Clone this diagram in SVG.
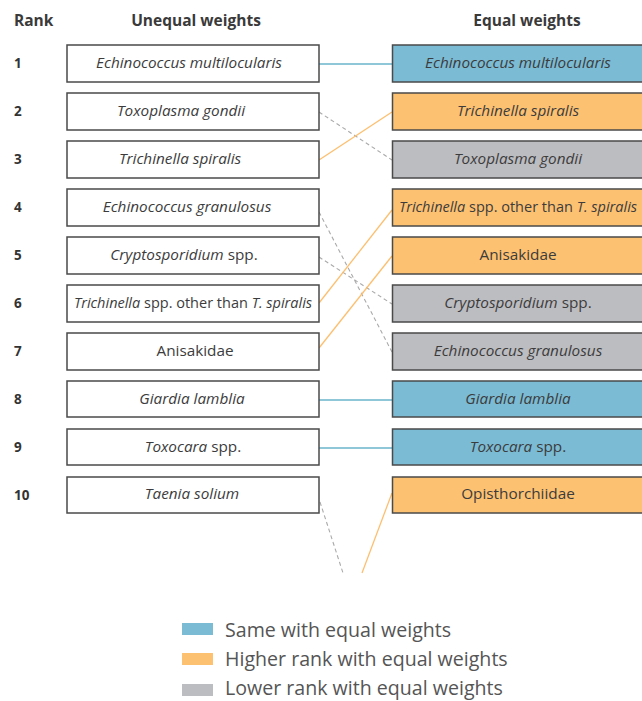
<svg xmlns="http://www.w3.org/2000/svg" width="642" height="701" viewBox="0 0 642 701">
<style>
text{font-family:"Open Sans","Noto Sans","Liberation Sans",sans-serif;fill:#3c3c3c}
.hd{font-size:15.5px;font-weight:bold;fill:#3a3a3a}
.rk{font-size:13.5px;font-weight:bold;fill:#333}
.lb{font-size:15.3px;text-anchor:middle}
.sm{font-size:14.5px}
.i{font-style:italic}
.bx{stroke:#4a4a4a;stroke-width:1.5}
.w{fill:#fff}
.b{fill:#7bbbd4}
.o{fill:#fdc172}
.g{fill:#bcbdc1}
.cs{stroke:#6ab4cc;stroke-width:1.6;fill:none}
.ch{stroke:#fdbf6f;stroke-width:1.3;fill:none}
.cl{stroke:#aaaaaa;stroke-width:1.1;stroke-dasharray:4 3;fill:none}
.lg{font-size:19.6px;fill:#555}
</style>
<g id="headers">
<text class="hd" x="14" y="26">Rank</text>
<text class="hd" x="196" y="26" text-anchor="middle">Unequal weights</text>
<text class="hd" x="527" y="26" text-anchor="middle">Equal weights</text>
</g>
<g id="ranks">
<text class="rk" x="14" y="68">1</text>
<text class="rk" x="14" y="116">2</text>
<text class="rk" x="14" y="164">3</text>
<text class="rk" x="14" y="212">4</text>
<text class="rk" x="14" y="260">5</text>
<text class="rk" x="14" y="308">6</text>
<text class="rk" x="14" y="356">7</text>
<text class="rk" x="14" y="404">8</text>
<text class="rk" x="14" y="452">9</text>
<text class="rk" x="14" y="500">10</text>
</g>
<g id="connectors">
<line class="cs" x1="319" y1="64" x2="392" y2="64"/>
<line class="cs" x1="319" y1="400" x2="392" y2="400"/>
<line class="cs" x1="319" y1="448" x2="392" y2="448"/>
<line class="cl" x1="319" y1="112" x2="392" y2="160"/>
<line class="ch" x1="319" y1="160" x2="392" y2="112"/>
<line class="cl" x1="319" y1="212" x2="392" y2="352"/>
<line class="cl" x1="319" y1="257" x2="392" y2="304"/>
<line class="ch" x1="319" y1="303" x2="392" y2="210"/>
<line class="ch" x1="319" y1="348" x2="392" y2="256"/>
<line class="cl" x1="320" y1="502" x2="343" y2="573"/>
<line class="ch" x1="362" y1="573" x2="392" y2="493"/>
</g>
<g id="left-1"><rect class="bx w" x="67" y="45" width="252" height="37"/><text class="lb i" x="189" y="68">Echinococcus multilocularis</text></g>
<g id="left-2"><rect class="bx w" x="67" y="93" width="252" height="37"/><text class="lb i" x="181" y="116">Toxoplasma gondii</text></g>
<g id="left-3"><rect class="bx w" x="67" y="141" width="252" height="37"/><text class="lb i" x="180" y="164">Trichinella spiralis</text></g>
<g id="left-4"><rect class="bx w" x="67" y="189" width="252" height="37"/><text class="lb i" x="187" y="212">Echinococcus granulosus</text></g>
<g id="left-5"><rect class="bx w" x="67" y="237" width="252" height="37"/><text class="lb" x="184" y="260"><tspan class="i">Cryptosporidium</tspan> spp.</text></g>
<g id="left-6"><rect class="bx w" x="67" y="285" width="252" height="37"/><text class="lb sm" x="193" y="308"><tspan class="i">Trichinella</tspan> spp. other than <tspan class="i">T. spiralis</tspan></text></g>
<g id="left-7"><rect class="bx w" x="67" y="333" width="252" height="37"/><text class="lb" x="195" y="356">Anisakidae</text></g>
<g id="left-8"><rect class="bx w" x="67" y="381" width="252" height="36"/><text class="lb i" x="192" y="404">Giardia lamblia</text></g>
<g id="left-9"><rect class="bx w" x="67" y="429" width="252" height="36"/><text class="lb" x="193" y="452"><tspan class="i">Toxocara</tspan> spp.</text></g>
<g id="left-10"><rect class="bx w" x="67" y="477" width="252" height="36"/><text class="lb i" x="192" y="499">Taenia solium</text></g>
<g id="right-1"><rect class="bx b" x="392.5" y="45" width="252" height="37"/><text class="lb i" x="518" y="68">Echinococcus multilocularis</text></g>
<g id="right-2"><rect class="bx o" x="392.5" y="93" width="252" height="37"/><text class="lb i" x="518" y="116">Trichinella spiralis</text></g>
<g id="right-3"><rect class="bx g" x="392.5" y="141" width="252" height="37"/><text class="lb i" x="518" y="164">Toxoplasma gondii</text></g>
<g id="right-4"><rect class="bx o" x="392.5" y="189" width="252" height="37"/><text class="lb sm" x="518" y="212"><tspan class="i">Trichinella</tspan> spp. other than <tspan class="i">T. spiralis</tspan></text></g>
<g id="right-5"><rect class="bx o" x="392.5" y="237" width="252" height="37"/><text class="lb" x="518" y="260">Anisakidae</text></g>
<g id="right-6"><rect class="bx g" x="392.5" y="285" width="252" height="37"/><text class="lb" x="518" y="308"><tspan class="i">Cryptosporidium</tspan> spp.</text></g>
<g id="right-7"><rect class="bx g" x="392.5" y="333" width="252" height="37"/><text class="lb i" x="518" y="356">Echinococcus granulosus</text></g>
<g id="right-8"><rect class="bx b" x="392.5" y="381" width="252" height="36"/><text class="lb i" x="518" y="404">Giardia lamblia</text></g>
<g id="right-9"><rect class="bx b" x="392.5" y="429" width="252" height="36"/><text class="lb" x="518" y="452"><tspan class="i">Toxocara</tspan> spp.</text></g>
<g id="right-10"><rect class="bx o" x="392.5" y="477" width="252" height="36"/><text class="lb" x="518" y="499">Opisthorchiidae</text></g>
<g id="legend">
<rect x="182" y="623" width="31" height="12" fill="#7bbbd4"/>
<text class="lg" x="225" y="637">Same with equal weights</text>
<rect x="182" y="653" width="31" height="12" fill="#fdc172"/>
<text class="lg" x="225" y="666">Higher rank with equal weights</text>
<rect x="182" y="684" width="31" height="12" fill="#bcbdc1"/>
<text class="lg" x="225" y="695">Lower rank with equal weights</text>
</g>
</svg>
